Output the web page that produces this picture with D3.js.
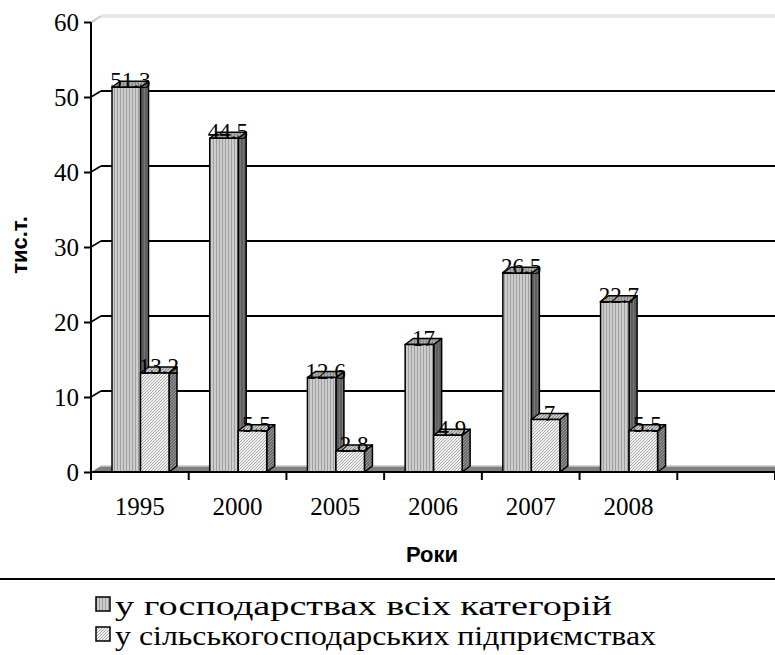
<!DOCTYPE html>
<html>
<head>
<meta charset="utf-8">
<script src="https://cdn.jsdelivr.net/npm/d3@7"></script>
<style>
  body { margin: 0; background: #fff; }
  svg { display: block; }
</style>
</head>
<body>
<div id="chart"></div>
<script>
// data
var years = ["1995", "2000", "2005", "2006", "2007", "2008"];
var allFarms = [51.3, 44.5, 12.6, 17, 26.5, 22.7];
var agriEnterprises = [13.2, 5.5, 2.8, 4.9, 7, 5.5];
var yTicks = [0, 10, 20, 30, 40, 50, 60];
var seriesNames = ["у господарствах всіх категорій", "у сільськогосподарських підприємствах"];

var width = 775, height = 655;
var serif = "'Liberation Serif', 'Times New Roman', Times, serif";
var sans = "'Liberation Sans', Arial, sans-serif";

// wall depth and bar depth
var wdx = 10, wdy = -6;
var bdx = 8, bdy = -6;

var svg = d3.select("#chart").append("svg")
    .attr("width", width).attr("height", height);

var defs = svg.append("defs");

function stripes(id, bg, fg) {
    var p = defs.append("pattern").attr("id", id)
        .attr("patternUnits", "userSpaceOnUse").attr("width", 3).attr("height", 3);
    p.append("rect").attr("width", 3).attr("height", 3).attr("fill", bg);
    p.append("rect").attr("width", 1).attr("height", 3).attr("fill", fg);
}
function dots(id, bg, fg) {
    var p = defs.append("pattern").attr("id", id)
        .attr("patternUnits", "userSpaceOnUse").attr("width", 3).attr("height", 3);
    p.append("rect").attr("width", 3).attr("height", 3).attr("fill", bg);
    p.append("rect").attr("width", 1).attr("height", 1).attr("fill", fg);
    p.append("rect").attr("x", 1).attr("y", 2).attr("width", 1).attr("height", 1).attr("fill", fg);
    p.append("rect").attr("x", 2).attr("y", 1).attr("width", 1).attr("height", 1).attr("fill", fg);
}
stripes("s1front", "#cdcdcd", "#9e9e9e");
stripes("s1side", "#5e5e5e", "#767676");
stripes("s1top", "#a8a8a8", "#888888");
dots("s2front", "#f0f0f0", "#a9a9a9");
dots("s2side", "#6a6a6a", "#9a9a9a");
dots("s2top", "#c8c8c8", "#8a8a8a");

var x = d3.scaleBand().domain(d3.range(years.length + 1)).range([91, 775]);
var y = d3.scaleLinear().domain([0, 60]).range([472, 22]);

// back wall top line
svg.append("line")
    .attr("x1", 91 + wdx).attr("x2", width).attr("y1", y(60) + wdy).attr("y2", y(60) + wdy)
    .attr("stroke", "#d0d0d0").attr("stroke-width", 3);
svg.append("line")
    .attr("x1", 91 + wdx).attr("x2", width).attr("y1", y(60) + wdy).attr("y2", y(60) + wdy)
    .attr("stroke", "#fff").attr("stroke-width", 1);
svg.append("line")
    .attr("x1", 92).attr("x2", 91 + wdx).attr("y1", y(60)).attr("y2", y(60) + wdy)
    .attr("stroke", "#c8c8c8").attr("stroke-width", 2);

// gridlines on the wall
yTicks.filter(function(d) { return d > 0 && d < 60; }).forEach(function(t) {
    svg.append("line")
        .attr("x1", 91 + wdx).attr("x2", width).attr("y1", y(t) + wdy).attr("y2", y(t) + wdy)
        .attr("stroke", "#000").attr("stroke-width", 2);
    svg.append("line")
        .attr("x1", 91).attr("x2", 91 + wdx).attr("y1", y(t)).attr("y2", y(t) + wdy)
        .attr("stroke", "#000").attr("stroke-width", 1.5);
});

// floor
svg.append("path")
    .attr("d", "M91," + y(0) + "L" + (91 + wdx) + "," + (y(0) + wdy) + "L" + width + "," + (y(0) + wdy) + "L" + width + "," + y(0) + "Z")
    .attr("fill", "#808080");
svg.append("line")
    .attr("x1", 91 + wdx).attr("x2", width).attr("y1", y(0) + wdy).attr("y2", y(0) + wdy)
    .attr("stroke", "#c8c8c8").attr("stroke-width", 1.5);

// 3d bars
var bw = 28.5, gapLeft = 21;
var series = [
    { values: allFarms, front: "s1front", side: "s1side", top: "s1top", off: 0 },
    { values: agriEnterprises, front: "s2front", side: "s2side", top: "s2top", off: bw }
];

function drawBar(g, x0, v, s) {
    var y0 = y(0), y1 = y(v);
    g.append("path")
        .attr("d", "M" + (x0 + bw) + "," + y0 + "L" + (x0 + bw + bdx) + "," + (y0 + bdy) +
            "L" + (x0 + bw + bdx) + "," + (y1 + bdy) + "L" + (x0 + bw) + "," + y1 + "Z")
        .attr("fill", "url(#" + s.side + ")").attr("stroke", "#000").attr("stroke-width", 1.5)
        .attr("stroke-linejoin", "round");
    g.append("path")
        .attr("d", "M" + x0 + "," + y1 + "L" + (x0 + bdx) + "," + (y1 + bdy) +
            "L" + (x0 + bw + bdx) + "," + (y1 + bdy) + "L" + (x0 + bw) + "," + y1 + "Z")
        .attr("fill", "url(#" + s.top + ")").attr("stroke", "#000").attr("stroke-width", 1.5)
        .attr("stroke-linejoin", "round");
    g.append("rect")
        .attr("x", x0).attr("y", y1).attr("width", bw).attr("height", y0 - y1)
        .attr("fill", "url(#" + s.front + ")").attr("stroke", "#000").attr("stroke-width", 1.5);
}

var bars = svg.append("g");
years.forEach(function(yr, i) {
    series.forEach(function(s) {
        drawBar(bars, x(i) + gapLeft + s.off, s.values[i], s);
    });
});

// value labels
var labels = svg.append("g")
    .attr("font-family", serif).attr("font-size", 23).attr("text-anchor", "middle");
years.forEach(function(yr, i) {
    series.forEach(function(s) {
        labels.append("text")
            .attr("x", x(i) + gapLeft + s.off + (bw + bdx) / 2)
            .attr("y", y(s.values[i]) + 1)
            .text(s.values[i]);
    });
});

// axes
var yAxis = svg.append("g").attr("transform", "translate(91,0)")
    .call(d3.axisLeft(y).tickValues(yTicks).tickSize(7).tickPadding(5).tickFormat(d3.format("d")));
yAxis.select(".domain").attr("stroke-width", 2).attr("d", "M0," + y(60) + "V" + y(0));
yAxis.selectAll(".tick line").attr("stroke-width", 2);
yAxis.selectAll("text").attr("font-family", serif).attr("font-size", 25).attr("fill", "#000").attr("dy", "0.35em");

var xAxis = svg.append("g").attr("transform", "translate(0," + y(0) + ")");
xAxis.append("line").attr("x1", 91).attr("x2", width).attr("stroke", "#000").attr("stroke-width", 2);
xAxis.selectAll(".xt").data(d3.range(years.length + 2)).enter().append("line")
    .attr("x1", function(d) { return 91 + d * x.step(); })
    .attr("x2", function(d) { return 91 + d * x.step(); })
    .attr("y1", 0).attr("y2", 8).attr("stroke", "#000").attr("stroke-width", 2);
xAxis.selectAll(".xl").data(years).enter().append("text")
    .attr("x", function(d, i) { return x(i) + x.bandwidth() / 2; })
    .attr("y", 43)
    .attr("text-anchor", "middle").attr("font-family", serif).attr("font-size", 25)
    .text(function(d) { return d; });

// axis titles
svg.append("text")
    .attr("x", 432).attr("y", 562).attr("text-anchor", "middle")
    .attr("font-family", sans).attr("font-weight", "bold").attr("font-size", 22)
    .text("Роки");
svg.append("text")
    .attr("transform", "translate(27,245) rotate(-90)").attr("text-anchor", "middle")
    .attr("font-family", sans).attr("font-weight", "bold").attr("font-size", 22)
    .text("тис.т.");

// separator line
svg.append("line").attr("x1", 0).attr("x2", width).attr("y1", 579).attr("y2", 579)
    .attr("stroke", "#000").attr("stroke-width", 2);

// legend, text stretched to the widths of the original lines
var legendWidths = [497, 541];
var legend = svg.append("g");
series.forEach(function(s, i) {
    var ly = 597 + i * 30;
    legend.append("rect").attr("x", 96).attr("y", ly).attr("width", 14).attr("height", 14)
        .attr("fill", "url(#" + s.front + ")").attr("stroke", "#000").attr("stroke-width", 1.5);
    legend.append("text").attr("x", 115).attr("y", ly + 18)
        .attr("font-family", serif).attr("font-size", 27)
        .attr("textLength", legendWidths[i]).attr("lengthAdjust", "spacingAndGlyphs")
        .text(seriesNames[i]);
});
</script>
</body>
</html>
